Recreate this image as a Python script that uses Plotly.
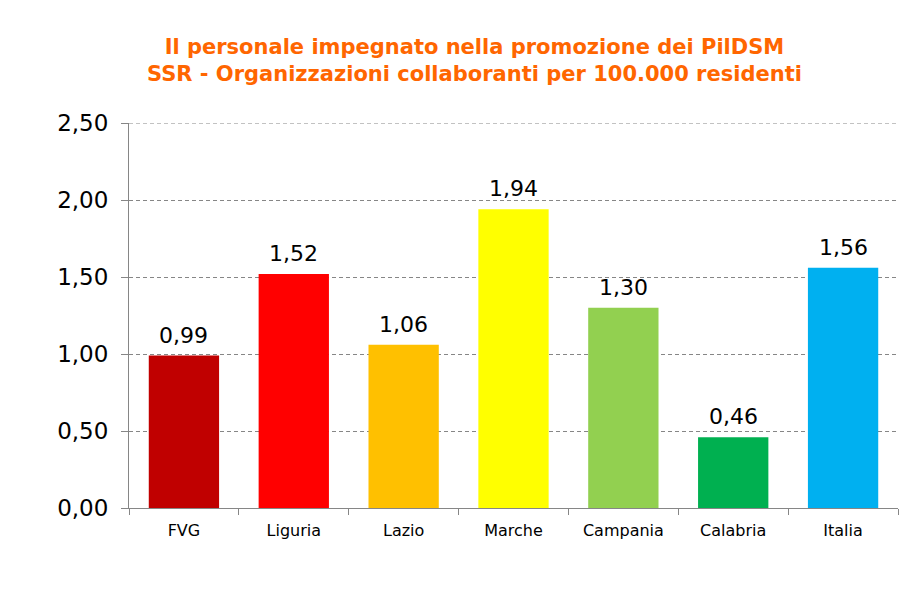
import plotly.graph_objects as go

categories = ["FVG", "Liguria", "Lazio", "Marche", "Campania", "Calabria", "Italia"]
values = [0.99, 1.52, 1.06, 1.94, 1.30, 0.46, 1.56]
colors = ["#C00000", "#FF0000", "#FFC000", "#FFFF00", "#92D050", "#00B050", "#00B0F0"]
tick_vals = [0, 0.5, 1.0, 1.5, 2.0, 2.5]
tick_text = ["0,00", "0,50", "1,00", "1,50", "2,00", "2,50"]
labels = [f"{v:.2f}".replace(".", ",") for v in values]

FONT = "DejaVu Sans, Verdana, sans-serif"
Y_MAX = tick_vals[-1]

fig = go.Figure(go.Bar(
    x=categories, y=values,
    marker=dict(color=colors, line=dict(width=0)),
    width=0.64,
    hoverinfo="x+y",
))

for c, v, t in zip(categories, values, labels):
    fig.add_annotation(x=c, y=v, text=t, showarrow=False,
                       xanchor="center", yanchor="bottom", yshift=6,
                       font=dict(family=FONT, size=22, color="#000000"))

# top gridline (plotly omits gridlines at the range edge)
fig.add_shape(type="line", xref="paper", x0=0, x1=1, yref="y", y0=Y_MAX, y1=Y_MAX,
              line=dict(color="#868686", width=1, dash="4px,3px"), layer="below")

fig.update_layout(
    width=920, height=601,
    margin=dict(l=121, r=30, t=115, b=101),
    paper_bgcolor="white", plot_bgcolor="white",
    showlegend=False,
    title=dict(
        text="<b>Il personale impegnato nella promozione dei PilDSM<br>SSR - Organizzazioni collaboranti per 100.000 residenti</b>",
        x=0.507, xanchor="center", y=0.924, yanchor="middle",
        font=dict(family=FONT, size=21, color="#FF6600"),
    ),
    xaxis=dict(
        type="category",
        showline=True, linecolor="#868686", linewidth=1,
        ticks="outside", tickson="boundaries", ticklen=6, tickcolor="#868686",
        tickfont=dict(family=FONT, size=16, color="#000000"),
        ticklabelstandoff=8,
        showgrid=False,
    ),
    yaxis=dict(
        range=[0, Y_MAX],
        tickvals=tick_vals, ticktext=tick_text,
        showline=True, linecolor="#868686", linewidth=1,
        ticks="outside", ticklen=7, tickcolor="#868686",
        tickfont=dict(family=FONT, size=23, color="#000000"),
        ticklabelstandoff=8,
        showgrid=True, gridcolor="#868686", griddash="4px,3px", gridwidth=1,
        zeroline=False,
    ),
)

fig.write_html("out.html")
